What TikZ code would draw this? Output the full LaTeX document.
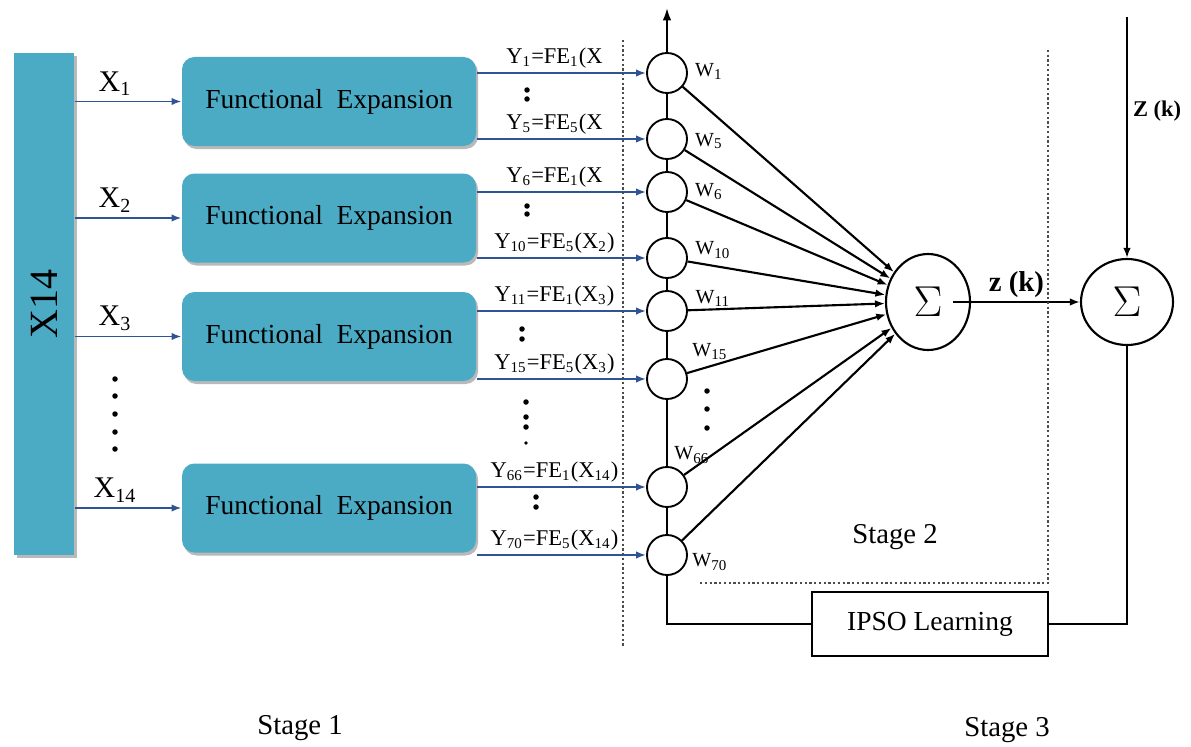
\documentclass[tikz,border=0pt]{standalone}
\usepackage{fontspec}
\setmainfont{Liberation Serif}
\usetikzlibrary{arrows.meta, positioning, shadows, shapes.geometric}
\definecolor{feblue}{RGB}{75,170,196}
\definecolor{linkblue}{RGB}{47,84,150}
\tikzset{%
	inblock/.style={fill=feblue, minimum width=24pt, minimum height=200.8pt, inner sep=0pt,%
		drop shadow={shadow xshift=1.2pt, shadow yshift=-1.2pt, fill=gray!55, opacity=1},%
		font=\fontsize{16}{18}\selectfont},
	febox/.style={fill=feblue, rounded corners=5pt, minimum width=117.6pt, minimum height=35.6pt,%
		drop shadow={shadow xshift=0.8pt, shadow yshift=-1.2pt, fill=gray!55, opacity=1},%
		font=\fontsize{11}{13}\selectfont},
	feed/.style={-{Latex[length=4pt,width=3pt]}, linkblue, line width=0.75pt},
	unit/.style={draw, circle, minimum size=16pt, inner sep=0pt, line width=0.75pt},
	sumnode/.style={draw, ellipse, inner sep=0pt, line width=0.85pt, font=\fontsize{19}{20}\selectfont},
	ipsobox/.style={draw, rectangle, minimum width=94.4pt, minimum height=25.6pt, line width=0.75pt,%
		font=\fontsize{11}{13}\selectfont},
	wire/.style={line width=0.85pt},
	weight/.style={-{Latex[length=4pt,width=3pt]}, line width=0.85pt},
	wlabel/.style={font=\fontsize{8}{9}\selectfont, inner sep=0pt},
	ylabel/.style={font=\fontsize{9}{10}\selectfont, text=black, above, inner sep=1.5pt, pos=0.46},
	xlabel/.style={font=\fontsize{12}{13}\selectfont, text=black, above, inner sep=2pt, pos=0.38},
	vdot/.style={circle, fill, inner sep=0pt, minimum size=2.2pt},
	border/.style={densely dotted, line width=0.9pt, gray!60!black},
	stage/.style={font=\fontsize{11.5}{13}\selectfont}
}

\begin{document}
\begin{tikzpicture}[x=0.4pt, y=-0.4pt]
	\useasboundingbox (0,0) rectangle (1191,746);

	% stage 1
	\node[inblock] (blk) at (44,304) {\rotatebox{90}{X14}};
	\node[febox] (fe1) at (329,101.5) {Functional\ \ Expansion};
	\node[febox] (fe2) at (329,218)   {Functional\ \ Expansion};
	\node[febox] (fe3) at (329,336.5) {Functional\ \ Expansion};
	\node[febox] (fe4) at (329,508)   {Functional\ \ Expansion};

	\draw[feed] (blk.east |- fe1) -- node[xlabel]{X\textsubscript{1}}  (fe1);
	\draw[feed] (blk.east |- fe2) -- node[xlabel]{X\textsubscript{2}}  (fe2);
	\draw[feed] (blk.east |- fe3) -- node[xlabel]{X\textsubscript{3}}  (fe3);
	\draw[feed] (blk.east |- fe4) -- node[xlabel]{X\textsubscript{14}} (fe4);
	\foreach \y in {379,396,414,432,449}
		\node[vdot] (xd\y) at (115,\y) {};

	% stage 2
	\foreach \n/\y in {1/73,5/139,6/192,10/258,11/311,15/379,66/487,70/555}
		\node[unit] (u\n) at (667,\y) {};
	\node[sumnode, minimum width=33.6pt, minimum height=38.4pt] (sig1) at (928,302) {$\Sigma$};

	\foreach \n/\f/\lab in {%
		1/fe1/{Y\textsubscript{1}=FE\textsubscript{1}(X},
		5/fe1/{Y\textsubscript{5}=FE\textsubscript{5}(X},
		6/fe2/{Y\textsubscript{6}=FE\textsubscript{1}(X},
		10/fe2/{Y\textsubscript{10}=FE\textsubscript{5}(X\textsubscript{2})},
		11/fe3/{Y\textsubscript{11}=FE\textsubscript{1}(X\textsubscript{3})},
		15/fe3/{Y\textsubscript{15}=FE\textsubscript{5}(X\textsubscript{3})},
		66/fe4/{Y\textsubscript{66}=FE\textsubscript{1}(X\textsubscript{14})},
		70/fe4/{Y\textsubscript{70}=FE\textsubscript{5}(X\textsubscript{14})}}
		\draw[feed] (\f.east |- u\n) -- node[ylabel]{\lab} (u\n);

	\foreach \n in {1,5,6,10,11,15,66,70}
		\draw[weight] (u\n) -- (sig1);

	\coordinate (out) at (667,8);
	\draw[wire, -{Latex[length=5pt,width=3.5pt]}] (u1) -- (out);
	\draw[wire] (u1) -- (u5) -- (u6) -- (u10) -- (u11) -- (u15) -- (u66) -- (u70);

	\node[wlabel] (w1)  at (709,71)  {W\textsubscript{1}};
	\node[wlabel] (w5)  at (709,141) {W\textsubscript{5}};
	\node[wlabel] (w6)  at (709,192) {W\textsubscript{6}};
	\node[wlabel] (w10) at (713,250) {W\textsubscript{10}};
	\node[wlabel] (w11) at (713,298) {W\textsubscript{11}};
	\node[wlabel] (w15) at (710,352) {W\textsubscript{15}};
	\node[wlabel] (w66) at (692,455) {W\textsubscript{66}};
	\node[wlabel] (w70) at (710,562) {W\textsubscript{70}};

	\foreach \y in {391,409,428}
		\node[vdot] (wd\y) at (707,\y) {};
	\foreach \x/\y in {527/90,527/99,527/206,527/214,522/329,522/339,%
		526/402,526/417,526/427,536/497,536/507}
		\node[vdot] (yd\x\y) at (\x,\y) {};
	\node[vdot, minimum size=1.5pt] (ydlast) at (526,443) {};

	% stage 3
	\node[sumnode, minimum width=36.8pt, minimum height=34.4pt] (sig2) at (1127,302) {$\Sigma$};
	\node[ipsobox] (ipso) at (930,624) {IPSO Learning};
	\coordinate (zin) at (1127,17);

	\draw[weight] ([xshift=10pt]sig1.center) -- node[above, inner sep=1.5pt, font=\bfseries\fontsize{11.5}{13}\selectfont]{z (k)} (sig2);
	\draw[weight] (zin) -- node[right, pos=0.39, inner sep=2pt, font=\bfseries\fontsize{9}{10}\selectfont]{Z (k)} (sig2);
	\draw[wire] (u70) |- (ipso);
	\draw[wire] (ipso) -| (sig2);

	% stage borders
	\draw[border] (623,40) -- (623,648);
	\draw[border] (1048,50) |- (698,583);

	\node[stage] (st1) at (300,728) {Stage 1};
	\node[stage] (st2) at (895,537) {Stage 2};
	\node[stage] (st3) at (1007,730) {Stage 3};
\end{tikzpicture}
\end{document}
